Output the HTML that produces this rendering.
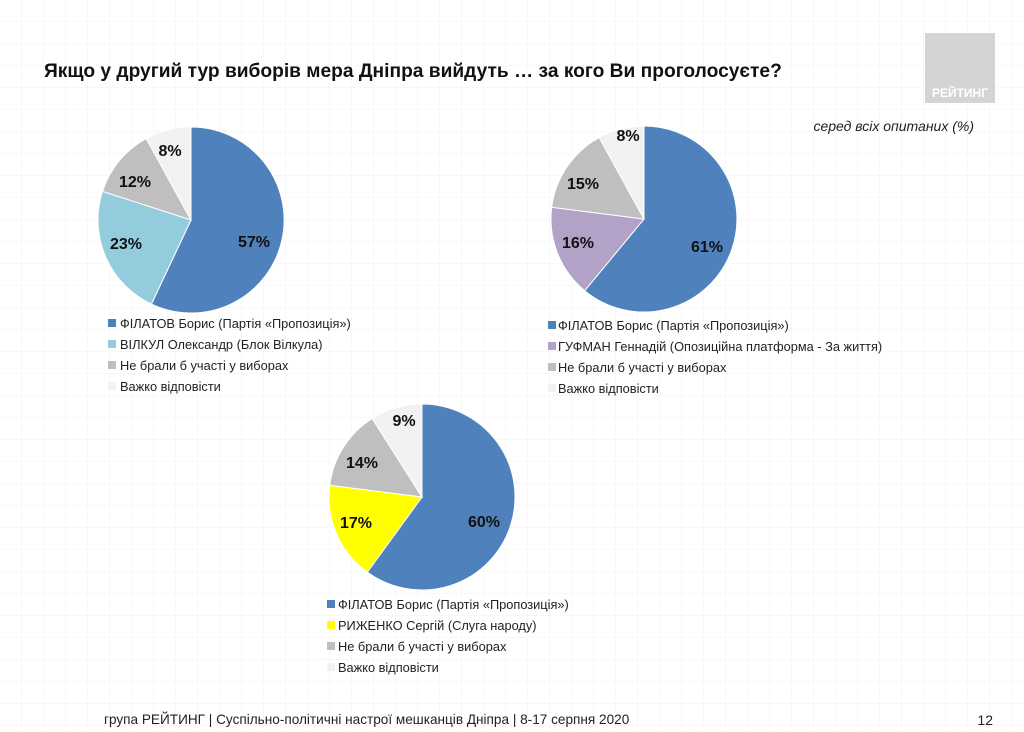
<!DOCTYPE html>
<html><head><meta charset="utf-8"><style>
body{margin:0;background:#fff}
svg{display:block}
text{font-family:"Liberation Sans",sans-serif}
.l{font-size:16px;font-weight:bold;fill:#111;text-anchor:middle;dominant-baseline:middle}
.g{font-size:12.8px;fill:#222}
</style></head><body>
<svg width="1024" height="732" viewBox="0 0 1024 732">
<defs><pattern id="grid" width="22" height="22" patternUnits="userSpaceOnUse"><path d="M22 0V22H0" fill="none" stroke="#f0f0f0" stroke-width="1"/></pattern></defs>
<rect width="1024" height="732" fill="#fff"/>
<rect width="1024" height="732" fill="url(#grid)"/>
<rect x="925" y="33" width="70" height="70" fill="#d4d4d4"/>
<text x="960" y="97" font-size="12" font-weight="bold" fill="#fff" text-anchor="middle">РЕЙТИНГ</text>
<text x="44" y="77" font-size="19.2" font-weight="bold" fill="#111">Якщо у другий тур виборів мера Дніпра вийдуть … за кого Ви проголосуєте?</text>
<text x="974" y="131" font-size="14" font-style="italic" fill="#222" text-anchor="end">серед всіх опитаних (%)</text>

<g stroke="#fff" stroke-width="1">
<path d="M191 220L191 127A93 93 0 1 1 151.4 304.1Z" fill="#4f81bd"/>
<path d="M191 220L151.4 304.1A93 93 0 0 1 102.5 191.3Z" fill="#93cddd"/>
<path d="M191 220L102.5 191.3A93 93 0 0 1 146.2 138.5Z" fill="#bfbfbf"/>
<path d="M191 220L146.2 138.5A93 93 0 0 1 191 127Z" fill="#f2f2f2"/>
</g>
<text class="l" x="254" y="243">57%</text><text class="l" x="126" y="245">23%</text>
<text class="l" x="135" y="183">12%</text><text class="l" x="170" y="152">8%</text>
<rect x="108" y="319" width="8" height="8" fill="#4f81bd"/><text class="g" x="120" y="328">ФІЛАТОВ Борис (Партія «Пропозиція»)</text>
<rect x="108" y="340" width="8" height="8" fill="#93cddd"/><text class="g" x="120" y="349">ВІЛКУЛ Олександр (Блок Вілкула)</text>
<rect x="108" y="361" width="8" height="8" fill="#bfbfbf"/><text class="g" x="120" y="370">Не брали б участі у виборах</text>
<rect x="108" y="382" width="8" height="8" fill="#f2f2f2"/><text class="g" x="120" y="391">Важко відповісти</text>

<g stroke="#fff" stroke-width="1">
<path d="M644 219L644 126A93 93 0 1 1 584.7 290.7Z" fill="#4f81bd"/>
<path d="M644 219L584.7 290.7A93 93 0 0 1 551.7 207.3Z" fill="#b3a2c7"/>
<path d="M644 219L551.7 207.3A93 93 0 0 1 599.2 137.5Z" fill="#bfbfbf"/>
<path d="M644 219L599.2 137.5A93 93 0 0 1 644 126Z" fill="#f2f2f2"/>
</g>
<text class="l" x="707" y="248">61%</text><text class="l" x="578" y="244">16%</text>
<text class="l" x="583" y="185">15%</text><text class="l" x="628" y="137">8%</text>
<rect x="548" y="321" width="8" height="8" fill="#4f81bd"/><text class="g" x="558" y="330">ФІЛАТОВ Борис (Партія «Пропозиція»)</text>
<rect x="548" y="342" width="8" height="8" fill="#b3a2c7"/><text class="g" x="558" y="351">ГУФМАН Геннадій (Опозиційна платформа - За життя)</text>
<rect x="548" y="363" width="8" height="8" fill="#bfbfbf"/><text class="g" x="558" y="372">Не брали б участі у виборах</text>
<rect x="548" y="384" width="8" height="8" fill="#f2f2f2"/><text class="g" x="558" y="393">Важко відповісти</text>

<g stroke="#fff" stroke-width="1">
<path d="M422 497L422 404A93 93 0 1 1 367.3 572.2Z" fill="#4f81bd"/>
<path d="M422 497L367.3 572.2A93 93 0 0 1 329.7 485.3Z" fill="#ffff00"/>
<path d="M422 497L329.7 485.3A93 93 0 0 1 372.2 418.5Z" fill="#bfbfbf"/>
<path d="M422 497L372.2 418.5A93 93 0 0 1 422 404Z" fill="#f2f2f2"/>
</g>
<text class="l" x="484" y="523">60%</text><text class="l" x="356" y="524">17%</text>
<text class="l" x="362" y="464">14%</text><text class="l" x="404" y="422">9%</text>
<rect x="327" y="600" width="8" height="8" fill="#4f81bd"/><text class="g" x="338" y="609">ФІЛАТОВ Борис (Партія «Пропозиція»)</text>
<rect x="327" y="621" width="8" height="8" fill="#ffff00"/><text class="g" x="338" y="630">РИЖЕНКО Сергій (Слуга народу)</text>
<rect x="327" y="642" width="8" height="8" fill="#bfbfbf"/><text class="g" x="338" y="651">Не брали б участі у виборах</text>
<rect x="327" y="663" width="8" height="8" fill="#f2f2f2"/><text class="g" x="338" y="672">Важко відповісти</text>

<text x="104" y="724" font-size="13.6" fill="#222">група РЕЙТИНГ  | Суспільно-політичні настрої мешканців Дніпра | 8-17 серпня 2020</text>
<text x="993" y="725" font-size="14" fill="#222" text-anchor="end">12</text>
</svg>
</body></html>
